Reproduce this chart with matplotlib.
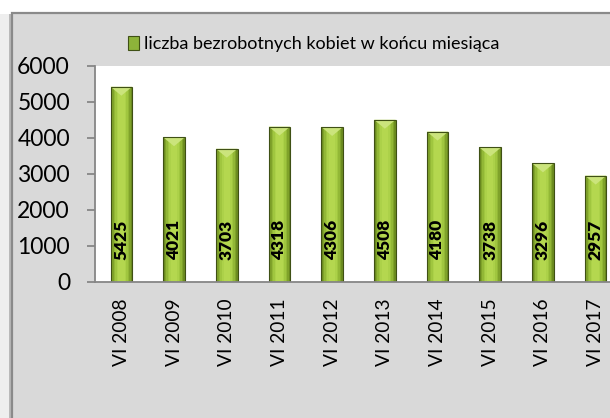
import numpy as np
import matplotlib; matplotlib.use("Agg")
import matplotlib.pyplot as plt
from matplotlib.patches import Rectangle, Patch

plt.rcParams['font.family'] = ['Lato', 'DejaVu Sans']

labels = ["VI 2008", "VI 2009", "VI 2010", "VI 2011", "VI 2012",
          "VI 2013", "VI 2014", "VI 2015", "VI 2016", "VI 2017"]
values = [5425, 4021, 3703, 4318, 4306, 4508, 4180, 3738, 3296, 2957]
series_name = "liczba bezrobotnych kobiet w końcu miesiąca"
yticks = [0, 1000, 2000, 3000, 4000, 5000, 6000]

W, H = 610, 418
fig = plt.figure(figsize=(W/100, H/100), dpi=100)
fig.patch.set_facecolor("white")

# gray chart panel (runs off the right/bottom edge like the original crop)
fig.patches.append(Rectangle((0.0, 0.0), 12/W, 1-14/H, transform=fig.transFigure,
                             facecolor="#eeeeee", edgecolor="none", zorder=0))
fig.patches.append(Rectangle((9/W, -0.05), 4/W, 1.05-14/H, transform=fig.transFigure,
                             facecolor="#b9b9b9", edgecolor="none", zorder=0))
fig.patches.append(Rectangle((12/W, -0.05), 1.1, 1.05-13/H, transform=fig.transFigure,
                             facecolor="#d9d9d9", edgecolor="#8a8a8a", lw=1.6, zorder=1))

ax = fig.add_axes([95/W, 1-282/H, 527/W, 216/H])
ax.set_zorder(2)
ax.set_facecolor("white")

x = np.arange(len(values))
bw = 0.41
shades = ["#6c8c20", "#7fa22a", "#92b736", "#a0c63f", "#acd149", "#b4d74f"]
fracs = [1.0, 0.86, 0.72, 0.58, 0.44, 0.3]
for f, c in zip(fracs, shades):
    ax.bar(x, values, width=bw*f, color=c, edgecolor="none", zorder=3)
ax.bar(x, values, width=bw, color="none", edgecolor="#3f5015", lw=0.8, zorder=5)

# bevel on bar tops
d = 250
for xi, v in zip(x, values):
    ax.fill([xi-bw/2, xi+bw/2, xi], [v, v, v-d], color="#cbe47c", ec="none", zorder=4)

for xi, v in zip(x, values):
    ax.annotate(str(v), (xi, 0), xytext=(0, 15.5), textcoords="offset points",
                rotation=90, ha="center", va="bottom", fontsize=12.5,
                fontweight="heavy", color="black", zorder=6)

ax.set_xlim(-0.5, len(values)-0.5)
ax.set_ylim(0, 6000)
ax.set_yticks(yticks)
ax.set_yticklabels([str(t) for t in yticks], fontsize=16.5)
ax.set_xticks(x)
ax.set_xticklabels(labels, rotation=90, fontsize=13.8, va="top")
ax.tick_params(axis="x", length=0, pad=12)
ax.tick_params(axis="y", length=6, width=1.3, color="#868686", pad=12)
for s in ["top", "right"]:
    ax.spines[s].set_visible(False)
for s in ["left", "bottom"]:
    ax.spines[s].set_color("#868686")
    ax.spines[s].set_linewidth(1.3)
ax.spines["bottom"].set_zorder(7)

handle = Patch(facecolor="#8db33a", edgecolor="#3f5015", lw=0.8)
fig.legend([handle], [series_name], loc="center", bbox_to_anchor=(314/W, 1-44/H),
           frameon=False, fontsize=13, handlelength=0.6, handleheight=0.8,
           handletextpad=0.3)

fig.savefig("out.png", dpi=100)
